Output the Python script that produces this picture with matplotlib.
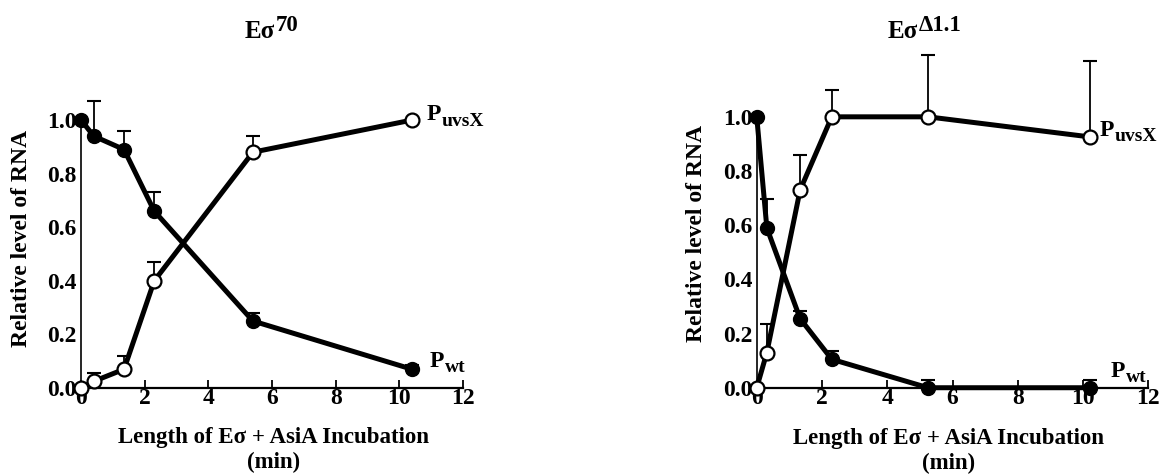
import matplotlib
matplotlib.use("Agg")
import matplotlib.pyplot as plt
import numpy as np

plt.rcParams['font.family'] = ['Liberation Serif', 'DejaVu Serif']
plt.rcParams['font.weight'] = 'bold'

# left panel: E sigma 70
t_left = [0, 0.4, 1.35, 2.3, 5.4, 10.4]
wt_left = [1.0, 0.94, 0.89, 0.66, 0.25, 0.07]
wt_left_err = [0, 0.13, 0.07, 0.07, 0.03, 0.015]
uvsx_left = [0.0, 0.025, 0.07, 0.40, 0.88, 1.0]
uvsx_left_err = [0, 0.03, 0.05, 0.07, 0.06, 0]

# right panel: E sigma delta 1.1
t_right = [0, 0.31, 1.33, 2.3, 5.25, 10.2]
wt_right = [1.0, 0.59, 0.255, 0.105, 0.0, 0.0]
wt_right_err = [0, 0.105, 0.03, 0.03, 0.03, 0.03]
uvsx_right = [0.0, 0.13, 0.73, 1.0, 1.0, 0.926]
uvsx_right_err = [0, 0.105, 0.13, 0.10, 0.23, 0.28]

x_ticks = [0, 2, 4, 6, 8, 10, 12]
y_ticks = [0.0, 0.2, 0.4, 0.6, 0.8, 1.0]


def with_sub(ax, x, y, base, sub):
    # base letter plus a subscript that is almost as big as it
    t = ax.text(x, y, base, fontsize=17, ha='left', va='center',
                fontweight='bold')
    ax.annotate(sub, xy=(1, 0), xycoords=t, xytext=(0.5, 9),
                textcoords='offset points', fontsize=14, va='top',
                fontweight='bold')


def draw_panel(ax, t, wt, wt_err, uvsx, uvsx_err, lab_x, lab_y, xlab_y):
    zeros = np.zeros(len(t))
    ax.errorbar(t, wt, yerr=[zeros, wt_err], fmt='none', ecolor='black',
                elinewidth=1.3, capsize=5, capthick=1.5, zorder=2, clip_on=False)
    ax.errorbar(t, uvsx, yerr=[zeros, uvsx_err], fmt='none', ecolor='black',
                elinewidth=1.3, capsize=5, capthick=1.5, zorder=2, clip_on=False)
    ax.plot(t, wt, color='black', lw=3.6, marker='o', ms=10,
            mfc='black', mec='black', zorder=3, clip_on=False)
    ax.plot(t, uvsx, color='black', lw=3.6, marker='o', ms=10,
            mfc='white', mec='black', mew=1.6, zorder=4, clip_on=False)

    ax.set_xlim(0, 12)
    ax.set_ylim(0, 1.3)
    ax.spines['top'].set_visible(False)
    ax.spines['right'].set_visible(False)
    ax.spines['left'].set_bounds(0, 1.0)
    ax.spines['left'].set_linewidth(1.2)
    ax.spines['bottom'].set_linewidth(1.6)
    ax.set_xticks(x_ticks)
    ax.set_yticks(y_ticks)
    ax.set_yticklabels(['%.1f' % v for v in y_ticks])
    ax.tick_params(axis='x', direction='in', length=6, width=1.3,
                   labelsize=17, pad=0)
    ax.tick_params(axis='y', length=0, labelsize=17, pad=3)
    ax.set_xlabel('Length of E\u03c3 + AsiA Incubation\n(min)', fontsize=16.5,
                  fontweight='bold', linespacing=1.22, va='top')
    ax.xaxis.set_label_coords(lab_x, xlab_y)
    ax.set_ylabel('Relative level of RNA', fontsize=17, fontweight='bold')
    ax.yaxis.set_label_coords(-0.128, lab_y)


fig = plt.figure(figsize=(11.66, 4.74), dpi=100)
ax1 = fig.add_axes([0.0695, 0.1814, 0.3276, 0.735])
ax2 = fig.add_axes([0.649, 0.182, 0.3358, 0.743])

draw_panel(ax1, t_left, wt_left, wt_left_err, uvsx_left, uvsx_left_err,
           0.503, 0.43, -0.113)
draw_panel(ax2, t_right, wt_right, wt_right_err, uvsx_right, uvsx_right_err,
           0.491, 0.437, -0.114)

# titles with a large superscript
for x0, sup in [(245, '70'), (888, '\u03941.1')]:
    base = fig.text(x0 / 1166, 1 - 32 / 474, 'E\u03c3', fontsize=18,
                    ha='left', va='center', fontweight='bold')
    fig.add_artist(plt.Annotation(sup, xy=(1, 1), xycoords=base,
                                  xytext=(0.5, 4), textcoords='offset points',
                                  fontsize=16.5, va='top', fontweight='bold'))

with_sub(ax1, 10.85, 1.02, 'P', 'uvsX')
with_sub(ax1, 10.95, 0.10, 'P', 'wt')
with_sub(ax2, 10.5, 0.95, 'P', 'uvsX')
with_sub(ax2, 10.85, 0.06, 'P', 'wt')

fig.savefig('out.png', dpi=100)
